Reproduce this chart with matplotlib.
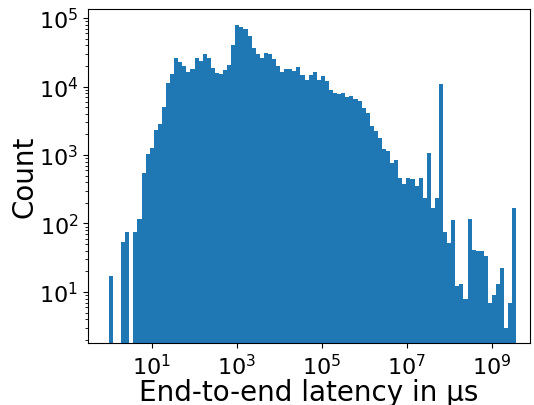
import numpy as np
import matplotlib
matplotlib.use('Agg')
import matplotlib.pyplot as plt
from matplotlib.ticker import NullLocator

# histogram counts per log-spaced bin (100 bins from 1 us to ~3.8e9 us)
log_min = 0.0
log_max = 9.575
counts = [
    17, 0, 0, 54, 76, 0, 76, 116, 550, 1040,
    1270, 2330, 2850, 5060, 11300, 15300, 26200, 23000, 20000, 16400,
    18100, 26200, 23700, 30000, 26200, 18750, 15850, 15300, 17500, 20700,
    40600, 79600, 74500, 69500, 55000, 36700, 30000, 26200, 31000, 30000,
    25400, 20000, 16400, 18100, 18100, 16900, 19400, 14800, 12500, 14800,
    16400, 12500, 14300, 12100, 8960, 8100, 7820, 8100, 7080, 7310,
    6610, 6180, 4890, 4130, 2670, 2250, 1780, 1230, 1150, 769,
    851, 465, 380, 465, 450, 355, 465, 237, 1077, 169,
    237, 10900, 76, 52, 113, 12, 13, 8, 117, 41,
    40, 40, 33, 7, 9, 13, 22, 3, 7, 169,
]
xticks = [1e1, 1e3, 1e5, 1e7, 1e9]
yticks = [1e1, 1e2, 1e3, 1e4, 1e5]

edges = np.logspace(log_min, log_max, len(counts) + 1)

fig = plt.figure(figsize=(5.34, 4.06), dpi=100)
ax = fig.add_axes([0.165, 0.153, 0.828, 0.822])

ax.hist(edges[:-1], bins=edges, weights=counts, log=True, color='#1f77b4')
ax.set_xscale('log')
ax.set_xlim(10 ** -0.49, 10 ** 9.9)
ax.set_ylim(1.8, 1.35e5)
ax.set_xticks(xticks)
ax.set_yticks(yticks)
ax.xaxis.set_minor_locator(NullLocator())

ax.set_xlabel('End-to-end latency in µs', fontsize=20, labelpad=0)
ax.set_ylabel('Count', fontsize=20, labelpad=0)
ax.tick_params(axis='both', which='major', labelsize=16)

fig.savefig('out.png', dpi=100)
